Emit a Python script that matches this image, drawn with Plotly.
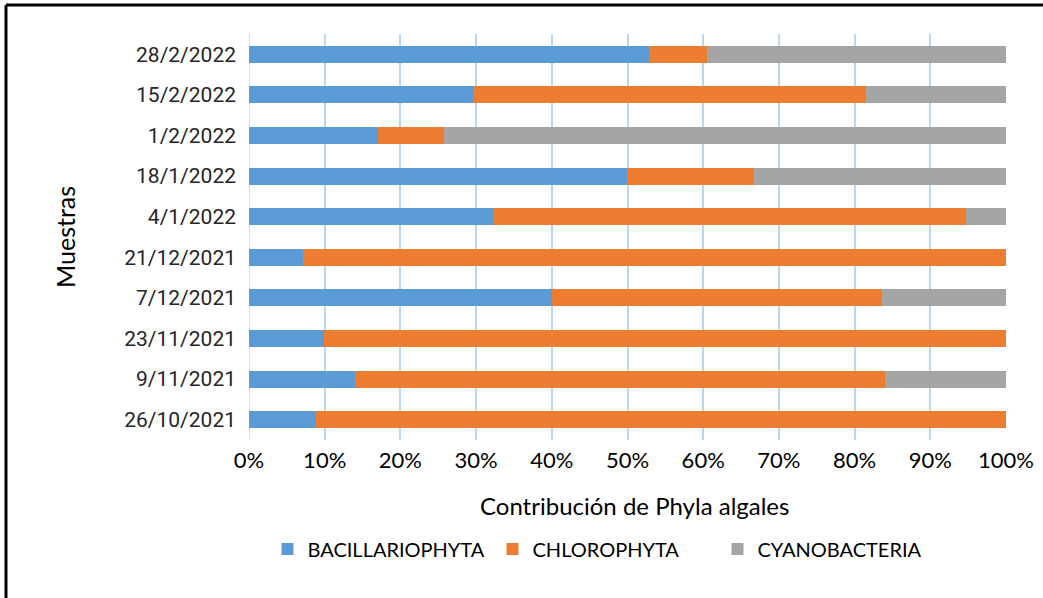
import plotly.graph_objects as go

samples = ["26/10/2021", "9/11/2021", "23/11/2021", "7/12/2021", "21/12/2021",
           "4/1/2022", "18/1/2022", "1/2/2022", "15/2/2022", "28/2/2022"]
bacillariophyta = [8.8, 14.0, 9.9, 40.0, 7.1, 32.3, 49.9, 17.1, 29.6, 52.8]
chlorophyta = [91.2, 70.0, 90.1, 43.6, 92.9, 62.4, 16.8, 8.6, 51.9, 7.7]
cyanobacteria = [0.0, 16.0, 0.0, 16.4, 0.0, 5.3, 33.3, 74.3, 18.5, 39.5]

series = [("BACILLARIOPHYTA", bacillariophyta, "#5B9BD5"),
          ("CHLOROPHYTA", chlorophyta, "#ED7D31"),
          ("CYANOBACTERIA", cyanobacteria, "#A5A5A5")]

W, H = 1043, 598
L, R, T, B = 249, 37, 34, 158
pw, ph = W - L - R, H - T - B

def px2paper(x, y):
    return (x - L) / pw, (H - B - y) / ph

fig = go.Figure()
for name, vals, col in series:
    fig.add_trace(go.Bar(y=samples, x=[v / 100 for v in vals], name=name, orientation="h",
                         marker=dict(color=col, line=dict(width=0))))

ax0, ay0 = px2paper(6, 5)
ax1, ay1 = px2paper(1043, 598)
shapes = [
    dict(type="line", xref="paper", yref="paper", x0=ax0, x1=ax1, y0=ay0, y1=ay0,
         line=dict(color="black", width=3)),
    dict(type="line", xref="paper", yref="paper", x0=ax0, x1=ax0, y0=ay0, y1=ay1,
         line=dict(color="black", width=3)),
]

tx, ty = px2paper(634, 505)
mx, my = px2paper(65, 237)
lx, ly = px2paper(605, 549)

fig.update_layout(
    width=W, height=H,
    margin=dict(l=L, r=R, t=T, b=B),
    paper_bgcolor="white", plot_bgcolor="white",
    barmode="stack", bargap=0.58,
    showlegend=True,
    legend=dict(orientation="h", x=lx, y=ly, xanchor="center", yanchor="middle",
                traceorder="normal",
                font=dict(family="Lato", size=20, color="#000000"),
                entrywidth=180, entrywidthmode="pixels"),
    xaxis=dict(range=[0, 1], tickvals=[i / 10 for i in range(11)],
               ticktext=[f"{i*10}%" for i in range(11)],
               showgrid=True, gridcolor="#BDD7EE", gridwidth=1.5,
               zeroline=False, showline=False, ticks="", automargin=False,
               tickfont=dict(family="Lato", size=22, color="#000000"),
               ticklabelstandoff=5),
    yaxis=dict(showgrid=False, zeroline=False, showline=False, ticks="", automargin=False,
               tickfont=dict(family="Roboto", size=21, color="#262626"),
               ticklabelstandoff=12),
    shapes=shapes + [dict(type="line", xref="x", yref="paper", x0=0, x1=0, y0=0, y1=1,
                          line=dict(color="#BDD7EE", width=1.5), layer="below")],
    annotations=[
        dict(text="Contribución de Phyla algales", xref="paper", yref="paper", x=tx, y=ty,
             showarrow=False, xanchor="center", yanchor="middle",
             font=dict(family="Lato", size=24, color="#000000")),
        dict(text="Muestras", xref="paper", yref="paper", x=mx, y=my, textangle=-90,
             showarrow=False, xanchor="center", yanchor="middle",
             font=dict(family="Lato", size=25, color="#000000")),
    ],
)
fig.write_html("out.html")
